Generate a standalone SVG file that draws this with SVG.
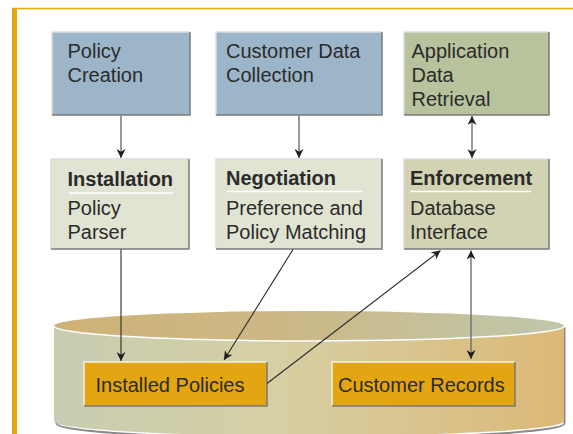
<svg xmlns="http://www.w3.org/2000/svg" width="573" height="434" viewBox="0 0 573 434">
  <style>
    .t { font-family: "Liberation Sans", Arial, sans-serif; font-size: 20px; fill: #2b2b2b; }
    .b { font-weight: bold; }
    .hl { stroke: #dcdcdc; stroke-width: 1.5; fill: none; }
    .sh { stroke: #7a7a7a; stroke-width: 1.5; fill: none; }
    .rule { stroke: #ffffff; stroke-width: 1.5; }
    .conn { stroke: #2a2a2a; stroke-width: 1.1; fill: none; }
    .conn.g { stroke: #6e6e6e; stroke-width: 1.4; }
  </style>
  <defs>
    <marker id="ah" viewBox="0 0 10 10" refX="10" refY="5" markerWidth="9" markerHeight="9" markerUnits="userSpaceOnUse" orient="auto-start-reverse">
      <path d="M0,0 L10,5 L0,10 L3,5 Z" fill="#1e1e1e"/>
    </marker>
    <linearGradient id="topG" x1="0" y1="0" x2="1" y2="0">
      <stop offset="0" stop-color="#cfb277"/>
      <stop offset="0.45" stop-color="#ccb886"/>
      <stop offset="1" stop-color="#bfc7ab"/>
    </linearGradient>
    <linearGradient id="sideG" x1="0" y1="0" x2="1" y2="0">
      <stop offset="0" stop-color="#c8cdb1"/>
      <stop offset="0.45" stop-color="#d6cfa3"/>
      <stop offset="1" stop-color="#dcb877"/>
    </linearGradient>
  </defs>

  <!-- page frame -->
  <rect x="0" y="0" width="573" height="434" fill="#ffffff"/>
  <rect x="12" y="8" width="5" height="426" fill="#e5a70c"/>
  <line x1="12" y1="8.5" x2="573" y2="8.5" stroke="#e5a70c" stroke-width="1.5"/>

  <!-- database cylinder -->
  <g id="database">
    <path d="M55,327 L55,422 A254,15 0 0 0 563,422 L563,327 Z" fill="none" stroke="#8a8a8a" stroke-width="2" transform="translate(1.5,1.5)"/>
    <path d="M54,326 L54,421 A255,15 0 0 0 564,421 L564,326 Z" fill="url(#sideG)"/>
    <ellipse cx="309" cy="326" rx="255" ry="15" fill="url(#topG)"/>
    <path d="M54,326 A255,15 0 0 0 564,326" fill="none" stroke="#ffffff" stroke-width="1.5"/>
  </g>

  <!-- top row -->
  <g id="policy-creation">
    <rect x="52" y="32" width="138" height="83" fill="#9db5c9"/>
    <path class="hl" d="M52,115 V32 H190"/>
    <path class="sh" d="M190,32 V115 H52"/>
    <text class="t" x="67.5" y="57.5">Policy</text>
    <text class="t" x="67.5" y="81.5">Creation</text>
  </g>
  <g id="customer-data-collection">
    <rect x="216" y="32" width="166" height="83" fill="#9db5c9"/>
    <path class="hl" d="M216,115 V32 H382"/>
    <path class="sh" d="M382,32 V115 H216"/>
    <text class="t" x="226" y="57.5">Customer Data</text>
    <text class="t" x="226" y="81.5">Collection</text>
  </g>
  <g id="application-data-retrieval">
    <rect x="404" y="32" width="145" height="83" fill="#b8c29c"/>
    <path class="hl" d="M404,115 V32 H549"/>
    <path class="sh" d="M549,32 V115 H404"/>
    <text class="t" x="411.5" y="57.5">Application</text>
    <text class="t" x="411.5" y="81.5">Data</text>
    <text class="t" x="411.5" y="106">Retrieval</text>
  </g>

  <!-- middle row -->
  <g id="installation">
    <rect x="51" y="159" width="138" height="90" fill="#e1e3d3"/>
    <path class="hl" d="M51,249 V159 H189"/>
    <path class="sh" d="M189,159 V249 H51"/>
    <text class="t b" x="67.5" y="185.5">Installation</text>
    <line class="rule" x1="69" y1="193" x2="173" y2="193"/>
    <text class="t" x="67.5" y="214.5">Policy</text>
    <text class="t" x="67.5" y="238.5">Parser</text>
  </g>
  <g id="negotiation">
    <rect x="216" y="159" width="166" height="90" fill="#e1e3d3"/>
    <path class="hl" d="M216,249 V159 H382"/>
    <path class="sh" d="M382,159 V249 H216"/>
    <text class="t b" x="226" y="185">Negotiation</text>
    <line class="rule" x1="227" y1="191.5" x2="363" y2="191.5"/>
    <text class="t" x="226" y="214.5">Preference and</text>
    <text class="t" x="226" y="238.5">Policy Matching</text>
  </g>
  <g id="enforcement">
    <rect x="404" y="159" width="145" height="90" fill="#d2d3b3"/>
    <path class="hl" d="M404,249 V159 H549"/>
    <path class="sh" d="M549,159 V249 H404"/>
    <text class="t b" x="410" y="185">Enforcement</text>
    <line class="rule" x1="410" y1="191.5" x2="531" y2="191.5"/>
    <text class="t" x="410" y="214.5">Database</text>
    <text class="t" x="410" y="238.5">Interface</text>
  </g>

  <!-- stores inside the database -->
  <g id="installed-policies">
    <rect x="84" y="362" width="183" height="44" fill="#e3a512"/>
    <path d="M84,406 V362 H267" stroke="#f2f2e6" stroke-width="1.5" fill="none"/>
    <path class="sh" d="M267,362 V406 H84"/>
    <text class="t" x="95.5" y="391.5">Installed Policies</text>
  </g>
  <g id="customer-records">
    <rect x="332" y="362" width="183" height="44" fill="#e3a512"/>
    <path d="M332,406 V362 H515" stroke="#f2f2e6" stroke-width="1.5" fill="none"/>
    <path class="sh" d="M515,362 V406 H332"/>
    <text class="t" x="338" y="391.5">Customer Records</text>
  </g>

  <!-- connectors -->
  <g id="connectors">
    <line class="conn g" x1="121" y1="115.5" x2="121" y2="158" marker-end="url(#ah)"/>
    <line class="conn g" x1="299" y1="115.5" x2="299" y2="158" marker-end="url(#ah)"/>
    <line class="conn g" x1="472" y1="116" x2="472" y2="158" marker-start="url(#ah)" marker-end="url(#ah)"/>
    <line class="conn" x1="121" y1="249.5" x2="121" y2="361" marker-end="url(#ah)"/>
    <line class="conn" x1="293" y1="249.5" x2="224" y2="360" marker-end="url(#ah)"/>
    <line class="conn" x1="267" y1="383.5" x2="440.5" y2="250.5" marker-end="url(#ah)"/>
    <line class="conn g" x1="471" y1="250.5" x2="471" y2="359" marker-start="url(#ah)" marker-end="url(#ah)"/>
  </g>
</svg>
